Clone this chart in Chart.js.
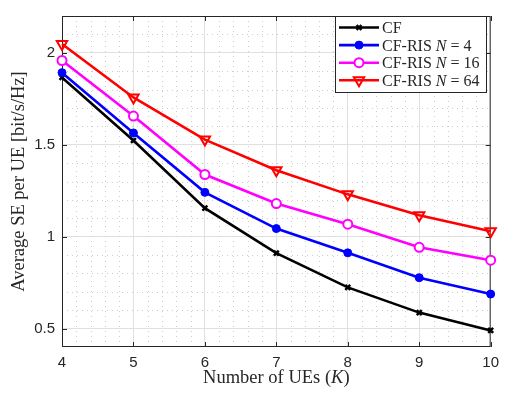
<!DOCTYPE html>
<html>
<head>
<meta charset="utf-8">
<script src="https://cdn.jsdelivr.net/npm/chart.js@4.4.1/dist/chart.umd.min.js"></script>
<style>
html, body { margin: 0; padding: 0; background: #fff; }
#wrap { position: relative; width: 506px; height: 398px; }
</style>
</head>
<body>
<div id="wrap"><canvas id="seChart"></canvas></div>
<script>
// --- datos ---
const numUEs = [4, 5, 6, 7, 8, 9, 10];
const seCF = [1.866, 1.523, 1.155, 0.910, 0.724, 0.587, 0.490];
const seRIS4 = [1.892, 1.564, 1.241, 1.044, 0.912, 0.777, 0.688];
const seRIS16 = [1.958, 1.656, 1.338, 1.180, 1.068, 0.942, 0.872];
const seRIS64 = [2.048, 1.757, 1.528, 1.361, 1.230, 1.117, 1.030];
const xTicks = [4, 5, 6, 7, 8, 9, 10];
const yTicks = [0.5, 1, 1.5, 2];
const legendBase = ['CF', 'CF-RIS', 'CF-RIS', 'CF-RIS'];
const legendN = [null, '4', '16', '64'];

const serif = '"Liberation Serif", "Times New Roman", serif';
const sans = '"Liberation Sans", Arial, sans-serif';
const axisColor = '#262626';

function toPoints(values) {
    return numUEs.map((k, i) => ({ x: k, y: values[i] }));
}

const datasets = [
    {
        label: 'CF', data: toPoints(seCF), order: 4,
        borderColor: '#000000', backgroundColor: '#000000',
        pointStyle: 'crossRot', pointRadius: 3.5, pointBorderWidth: 2.5
    },
    {
        label: 'CF-RIS N = 4', data: toPoints(seRIS4), order: 3,
        borderColor: '#0000ff', backgroundColor: '#0000ff',
        pointStyle: 'circle', pointRadius: 4, pointBorderWidth: 1
    },
    {
        label: 'CF-RIS N = 16', data: toPoints(seRIS16), order: 2,
        borderColor: '#ff00ff', backgroundColor: '#ffffff',
        pointStyle: 'circle', pointRadius: 4.5, pointBorderWidth: 2
    },
    {
        label: 'CF-RIS N = 64', data: toPoints(seRIS64), order: 1,
        borderColor: '#ff0000', backgroundColor: 'rgba(0,0,0,0)',
        pointStyle: 'triangle', pointRotation: 180, pointRadius: 6, pointBorderWidth: 2
    }
].map(ds => Object.assign({
    borderWidth: 2.6, tension: 0, clip: false,
    pointBackgroundColor: ds.backgroundColor, pointBorderColor: ds.borderColor
}, ds));

// rejilla menor punteada, marco, legenda y titulos
const matlabAxes = {
    id: 'matlabAxes',
    beforeDatasetsDraw(chart) {
        const { ctx, chartArea: a, scales: { x, y } } = chart;
        ctx.save();
        ctx.strokeStyle = '#cdcdcd';
        ctx.lineWidth = 1;
        ctx.setLineDash([1, 4]);
        for (let i = 21; i < 50; i++) {
            if (i % 5 === 0) continue;
            const px = Math.round(x.getPixelForValue(i / 5)) + 0.5;
            ctx.beginPath(); ctx.moveTo(px, a.top); ctx.lineTo(px, a.bottom); ctx.stroke();
        }
        for (let i = 5; i < 22; i++) {
            if (i % 5 === 0) continue;
            const py = Math.round(y.getPixelForValue(i / 10)) + 0.5;
            ctx.beginPath(); ctx.moveTo(a.left, py); ctx.lineTo(a.right, py); ctx.stroke();
        }
        ctx.setLineDash([]);
        ctx.strokeStyle = axisColor;
        ctx.lineWidth = 1;
        ctx.strokeRect(a.left + 0.5, a.top + 0.5, a.right - a.left - 1, a.bottom - a.top - 1);
        ctx.beginPath();
        xTicks.forEach(v => {
            const px = Math.round(x.getPixelForValue(v)) + 0.5;
            ctx.moveTo(px, a.bottom); ctx.lineTo(px, a.bottom - 5);
            ctx.moveTo(px, a.top); ctx.lineTo(px, a.top + 5);
        });
        yTicks.forEach(v => {
            const py = Math.round(y.getPixelForValue(v)) + 0.5;
            ctx.moveTo(a.left, py); ctx.lineTo(a.left + 5, py);
            ctx.moveTo(a.right, py); ctx.lineTo(a.right - 5, py);
        });
        ctx.stroke();
        ctx.restore();
    },
    afterDraw(chart) {
        const { ctx, chartArea: a } = chart;
        ctx.save();
        ctx.fillStyle = axisColor;
        ctx.textBaseline = 'alphabetic';

        // titulo eje x con K en cursiva
        const up = '18.5px ' + serif, it = 'italic 18.5px ' + serif;
        const parts = [['Number of UEs (', up], ['K', it], [')', up]];
        let total = 0;
        parts.forEach(p => { ctx.font = p[1]; total += ctx.measureText(p[0]).width; });
        let cx = (a.left + a.right) / 2 - total / 2;
        ctx.textAlign = 'left';
        parts.forEach(p => { ctx.font = p[1]; ctx.fillText(p[0], cx, 383); cx += ctx.measureText(p[0]).width; });

        // titulo eje y
        ctx.save();
        ctx.translate(24, (a.top + a.bottom) / 2);
        ctx.rotate(-Math.PI / 2);
        ctx.font = up;
        ctx.textAlign = 'center';
        ctx.fillText('Average SE per UE [bit/s/Hz]', 0, 0);
        ctx.restore();

        // legenda
        const box = { x: 335, y: 16, w: 151, h: 76 };
        const lf = '16px ' + serif, lfi = 'italic 16px ' + serif;
        ctx.fillStyle = '#ffffff';
        ctx.fillRect(box.x, box.y, box.w, box.h);
        ctx.strokeStyle = axisColor;
        ctx.lineWidth = 1;
        ctx.strokeRect(box.x + 0.5, box.y + 0.5, box.w, box.h);
        chart.data.datasets.forEach((ds, i) => {
            const cy = 27.5 + i * 17.6;
            ctx.strokeStyle = ds.borderColor;
            ctx.lineWidth = ds.borderWidth;
            ctx.beginPath(); ctx.moveTo(339, cy); ctx.lineTo(379, cy); ctx.stroke();
            ctx.fillStyle = ds.pointBackgroundColor;
            ctx.lineWidth = ds.pointBorderWidth;
            Chart.helpers.drawPoint(ctx, {
                pointStyle: ds.pointStyle, rotation: ds.pointRotation || 0,
                radius: ds.pointRadius, borderWidth: ds.pointBorderWidth
            }, 359, cy);
            ctx.fillStyle = axisColor;
            const lp = [[legendBase[i], lf]];
            if (legendN[i]) {
                lp.push([' ', lf], ['N', lfi], [' = ' + legendN[i], lf]);
            }
            let tx = 382;
            lp.forEach(p => { ctx.font = p[1]; ctx.fillText(p[0], tx, cy + 5.5); tx += ctx.measureText(p[0]).width; });
        });
        ctx.restore();
    }
};

new Chart(document.getElementById('seChart'), {
    type: 'line',
    data: { datasets: datasets },
    plugins: [matlabAxes],
    options: {
        responsive: true,
        maintainAspectRatio: false,
        animation: false,
        layout: { padding: { top: 7, right: 7, left: 0, bottom: 0 } },
        plugins: { legend: { display: false }, tooltip: { enabled: false } },
        scales: {
            x: {
                type: 'linear', min: 4, max: 10,
                afterFit: s => { s.height = 51; },
                afterBuildTicks: s => { s.ticks = xTicks.map(v => ({ value: v })); },
                grid: { color: '#e0e0e0', drawTicks: false },
                border: { display: false },
                ticks: { color: axisColor, font: { family: sans, size: 15 }, padding: 7, maxRotation: 0 }
            },
            y: {
                type: 'linear', min: 0.4, max: 2.2,
                afterFit: s => { s.width = 62; },
                afterBuildTicks: s => { s.ticks = yTicks.map(v => ({ value: v })); },
                grid: { color: '#e0e0e0', drawTicks: false },
                border: { display: false },
                ticks: { color: axisColor, font: { family: sans, size: 15 }, padding: 7, callback: v => String(v) }
            }
        }
    }
});
</script>
</body>
</html>
